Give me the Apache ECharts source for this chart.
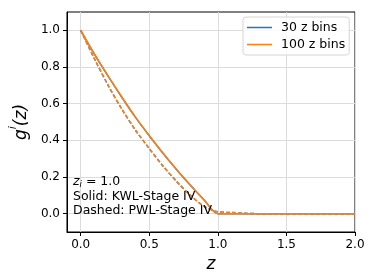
<!DOCTYPE html>
<html>
<head>
<meta charset="utf-8">
<script src="https://cdn.jsdelivr.net/npm/echarts@6/dist/echarts.min.js"></script>
<style>html,body{margin:0;padding:0;background:#fff;}#c{width:374px;height:280px;}</style>
</head>
<body>
<div id="c"></div>
<script>
var zValues = [0.0, 0.1, 0.2, 0.3, 0.4, 0.5, 0.6, 0.7, 0.8, 0.9, 1.0, 1.1, 1.2, 1.3, 1.4, 1.5, 1.6, 1.7, 1.8, 1.9, 2.0];
var kwl30 = [1.0, 0.87, 0.75, 0.635, 0.525, 0.425, 0.33, 0.24, 0.155, 0.075, 0.0, 0, 0, 0, 0, 0, 0, 0, 0, 0, 0];
var kwl100 = [1.0, 0.87, 0.75, 0.635, 0.525, 0.425, 0.33, 0.24, 0.155, 0.075, 0.0, 0, 0, 0, 0, 0, 0, 0, 0, 0, 0];
var pwl30 = [1.0, 0.845, 0.70, 0.57, 0.455, 0.355, 0.26, 0.175, 0.10, 0.04, 0.01, 0.006, 0.002, 0, 0, 0, 0, 0, 0, 0, 0];
var pwl100 = [1.0, 0.845, 0.70, 0.57, 0.455, 0.355, 0.26, 0.175, 0.10, 0.04, 0.01, 0.006, 0.002, 0, 0, 0, 0, 0, 0, 0, 0];
var xTicks = [0.0, 0.5, 1.0, 1.5, 2.0];
var yTicks = [0.0, 0.2, 0.4, 0.6, 0.8, 1.0];
var seriesNames = ['30 z bins', '100 z bins'];
var annotationLines = ['Solid: KWL-Stage IV', 'Dashed: PWL-Stage IV'];

function pairs(vals){ return zValues.map(function(z,i){ return [z, vals[i]]; }); }

var BLUE = '#1f77b4', ORANGE = '#ff7f0e';
var FONT = 'DejaVu Sans';

var chart = echarts.init(document.getElementById('c'), null, {renderer:'canvas'});
var gridCol = '#dcdcdc';
chart.setOption({
  animation: false,
  backgroundColor: '#fff',
  grid: {left: 60, right: 19, top: 12, bottom: 48, show: true, borderColor: '#000', borderWidth: 1, backgroundColor: 'transparent'},
  legend: {
    left: 243, top: 17, orient: 'vertical',
    data: seriesNames,
    icon: 'rect', itemWidth: 25, itemHeight: 1.5, itemGap: 4,
    textStyle: {fontFamily: FONT, fontSize: 12.5, color: '#000', padding: [0, 0, 0, 4]},
    borderColor: '#d6d6d6', borderWidth: 1, borderRadius: 3,
    backgroundColor: 'rgba(255,255,255,0.8)',
    padding: [4, 4, 4, 4]
  },
  xAxis: {
    type: 'value', min: -0.1, max: 2.0,
    name: 'z', nameLocation: 'middle', nameGap: 24,
    nameTextStyle: {fontFamily: FONT, fontSize: 17, fontStyle: 'italic', color: '#000'},
    axisLine: {show: true, onZero: false, lineStyle: {color: '#000', width: 1}},
    axisTick: {show: true, customValues: xTicks, length: 4, lineStyle: {color: '#000'}},
    axisLabel: {customValues: xTicks, fontFamily: FONT, fontSize: 12, color: '#000', margin: 7,
      formatter: function(v){ return v.toFixed(1); }},
    splitLine: {show: true, lineStyle: {color: gridCol, width: 1}}
  },
  yAxis: {
    type: 'value', min: -0.1, max: 1.1,
    name: '{g|g}{s|i}{g|(z)}', nameLocation: 'middle', nameGap: 36, nameRotate: 90,
    nameTextStyle: {
      rich: {
        g: {fontFamily: FONT, fontSize: 17, fontStyle: 'italic', color: '#000', lineHeight: 22, verticalAlign: 'bottom'},
        s: {fontFamily: FONT, fontSize: 11, fontStyle: 'italic', color: '#000', lineHeight: 22, verticalAlign: 'top', padding: [0, 0, 8, 0]}
      }
    },
    axisLine: {show: true, onZero: false, lineStyle: {color: '#000', width: 1}},
    axisTick: {show: true, customValues: yTicks, length: 4, lineStyle: {color: '#000'}},
    axisLabel: {customValues: yTicks, fontFamily: FONT, fontSize: 12, color: '#000', margin: 7,
      formatter: function(v){ return v.toFixed(1); }},
    splitLine: {show: true, lineStyle: {color: gridCol, width: 1}}
  },
  series: [
    {name: seriesNames[0], type: 'line', data: pairs(kwl30), showSymbol: false, smooth: 0.3,
     lineStyle: {color: BLUE, width: 1.5}, itemStyle: {color: BLUE}, z: 2},
    {name: seriesNames[0], type: 'line', data: pairs(pwl30), showSymbol: false, smooth: 0.3,
     lineStyle: {color: BLUE, width: 1.5, type: [4, 2]}, itemStyle: {color: BLUE}, z: 2},
    {name: seriesNames[1], type: 'line', data: pairs(kwl100), showSymbol: false, smooth: 0.3,
     lineStyle: {color: ORANGE, width: 1.5}, itemStyle: {color: ORANGE}, z: 3},
    {name: seriesNames[1], type: 'line', data: pairs(pwl100), showSymbol: false, smooth: 0.3,
     lineStyle: {color: ORANGE, width: 1.5, type: [4, 2]}, itemStyle: {color: ORANGE}, z: 3}
  ],
  graphic: [
    {type: 'text', left: 73, top: 175, z: 10, style: {
      text: '{z|z}{i|i}{t| = 1.0}',
      rich: {
        z: {fontFamily: FONT, fontSize: 12.5, fontStyle: 'italic', fill: '#000', lineHeight: 16, verticalAlign: 'middle'},
        i: {fontFamily: FONT, fontSize: 8.5, fontStyle: 'italic', fill: '#000', lineHeight: 16, verticalAlign: 'bottom'},
        t: {fontFamily: FONT, fontSize: 12.5, fill: '#000', lineHeight: 16, verticalAlign: 'middle'}
      }
    }},
    {type: 'text', left: 73, top: 190, z: 10, style: {text: annotationLines[0], fontFamily: FONT, fontSize: 12.5, fill: '#000'}},
    {type: 'text', left: 73, top: 204, z: 10, style: {text: annotationLines[1], fontFamily: FONT, fontSize: 12.5, fill: '#000'}}
  ]
});
</script>
</body>
</html>
